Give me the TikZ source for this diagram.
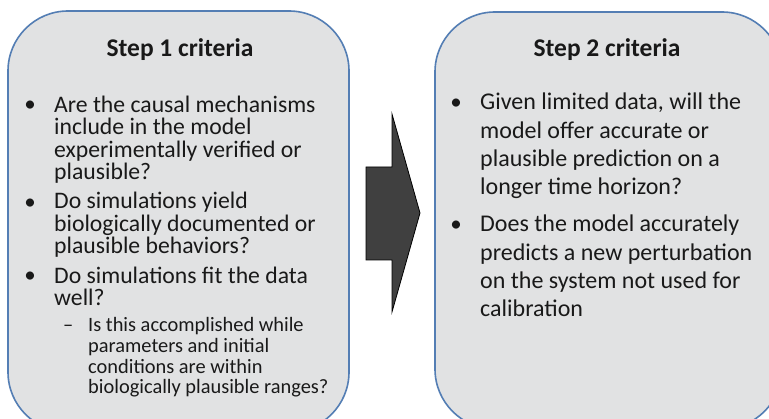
\documentclass[tikz,border=0pt]{standalone}
\usepackage{fontspec}
\setmainfont{Carlito}
\definecolor{boxfill}{RGB}{225,226,227}
\definecolor{boxline}{RGB}{84,126,180}
\definecolor{arrowfill}{RGB}{64,64,64}
\definecolor{txt}{RGB}{25,25,25}
\begin{document}
\begin{tikzpicture}[x=1pt,y=-1pt,
  panel/.style={draw=boxline,fill=boxfill,line width=1.6pt,rounded corners=60pt,inner sep=0pt},
  title/.style={font=\fontsize{25.5}{30}\selectfont\bfseries,text=txt,inner sep=0pt,anchor=base},
  itemL/.style={font=\fontsize{23.7}{22.6}\selectfont,text=txt,inner sep=0pt,anchor=base west,align=left},
  itemS/.style={font=\fontsize{20.4}{20.7}\selectfont,text=txt,inner sep=0pt,anchor=base west,align=left},
  itemR/.style={font=\fontsize{24}{28.4}\selectfont,text=txt,inner sep=0pt,anchor=base west,align=left},
  bul/.style={font=\fontsize{23}{24}\selectfont,text=txt,inner sep=0pt,anchor=base}]
\useasboundingbox (0,0) rectangle (769,419);
\clip (0,0) rectangle (769,419);
\fill[white] (0,0) rectangle (769,419);
% panels
\draw[panel] (8,11) rectangle (349,432);
\draw[panel] (435,12) rectangle (782,429);
\coordinate (p1c) at (180,57);
\coordinate (p2c) at (607,57);
\node[title] (t1) at (p1c) {Step 1 criteria};
\node[title] (t2) at (p2c) {Step 2 criteria};
% arrow
\draw[fill=arrowfill,draw=black,line width=0.8pt,line join=miter]
  (366,167) -- (392,167) -- (392,114) -- (420,213) -- (392,312) -- (392,260) -- (366,260) -- cycle;
% left items (base anchor = last line baseline)
\node[bul] (b1) at (30,112) {•};
\node[itemL] (l1) at (54,180) {Are the causal mechanisms\\include in the model\\experimentally verified or\\plausible?};
\node[bul] (b2) at (30,210) {•};
\node[itemL] (l2) at (54,254) {Do simulations yield\\biologically documented or\\plausible behaviors?};
\node[bul] (b3) at (30,283) {•};
\node[itemL] (l3) at (54,306) {Do simulations fit the data\\well?};
\node[itemS] (s1d) at (63,332) {–};
\node[itemS] (s1) at (88,394) {Is this accomplished while\\parameters and initial\\conditions are within\\biologically plausible ranges?};
% right items
\node[bul] (b4) at (456,110) {•};
\node[itemR] (r1) at (480,195) {Given limited data, will the\\model offer accurate or\\plausible prediction on a\\longer time horizon?};
\node[bul] (b5) at (456,232) {•};
\node[itemR] (r2) at (480,317) {Does the model accurately\\predicts a new perturbation\\on the system not used for\\calibration};
\end{tikzpicture}
\end{document}
